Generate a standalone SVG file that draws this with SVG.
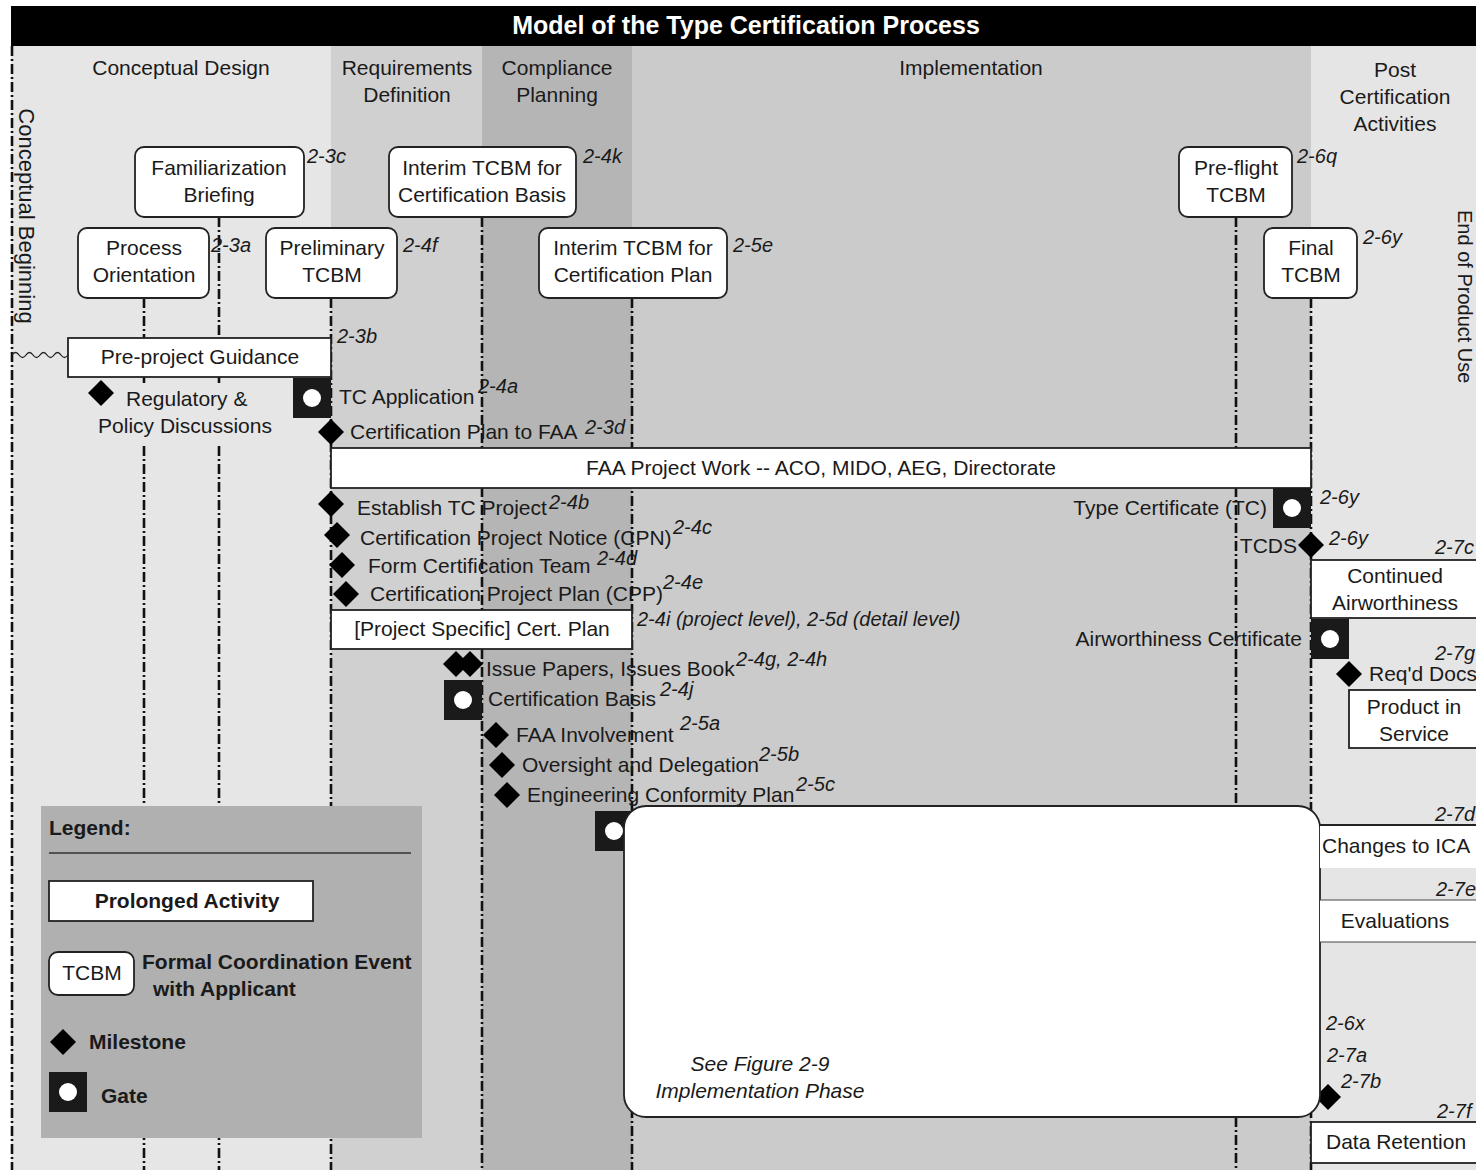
<svg xmlns="http://www.w3.org/2000/svg" width="1476" height="1170" viewBox="0 0 1476 1170">
<style>
text{font-family:"Liberation Sans",Arial,sans-serif;fill:#1a1a1a}
.t{font-size:21px}
.c{text-anchor:middle}
.e{text-anchor:end}
.r{font-size:20px;font-style:italic}
.b{font-weight:bold}
.box{fill:#fff;stroke:#222;stroke-width:1.8}
.dd{stroke:#111;stroke-width:2.6;fill:none;stroke-dasharray:10 3 2 3}
</style>
<defs>
<polygon id="dia" points="0,-13 13,0 0,13 -13,0" fill="#000"/>
<g id="gate"><rect x="-19" y="-20" width="38" height="40" fill="#1a1a1a"/><circle cx="0" cy="0" r="9" fill="#fff"/></g>
</defs>
<!-- backgrounds -->
<rect x="0" y="0" width="1476" height="1170" fill="#fff"/>
<rect x="11" y="46" width="320" height="1124" fill="#e6e6e6"/>
<rect x="331" y="46" width="151" height="1124" fill="#d0d0d0"/>
<rect x="482" y="46" width="150" height="1124" fill="#b5b5b5"/>
<rect x="632" y="46" width="679" height="1124" fill="#cbcbcb"/>
<rect x="1311" y="46" width="165" height="1124" fill="#e5e5e5"/>
<rect x="11" y="6" width="1465" height="40" fill="#000"/>
<text x="746" y="34" class="c b" style="font-size:25px;fill:#fff">Model of the Type Certification Process</text>
<!-- phase labels -->
<g id="phases">
<text x="181" y="75" class="t c">Conceptual Design</text>
<text x="407" y="75" class="t c">Requirements</text><text x="407" y="102" class="t c">Definition</text>
<text x="557" y="75" class="t c">Compliance</text><text x="557" y="102" class="t c">Planning</text>
<text x="971" y="75" class="t c">Implementation</text>
<text x="1395" y="77" class="t c">Post</text><text x="1395" y="104" class="t c">Certification</text><text x="1395" y="131" class="t c">Activities</text>
<text class="t c" transform="translate(19,216) rotate(90)" style="font-size:22px">Conceptual Beginning</text>
<text class="t" transform="translate(1458,210) rotate(90)" style="font-size:20px">End of Product Use</text>
</g>
<!-- connectors -->
<g id="connectors">
<line class="dd" x1="12" y1="46" x2="12" y2="1170"/>
<line class="dd" x1="144" y1="298" x2="144" y2="338"/>
<line class="dd" x1="144" y1="377" x2="144" y2="383"/>
<line class="dd" x1="144" y1="446" x2="144" y2="1170"/>
<line class="dd" x1="219" y1="217" x2="219" y2="338"/>
<line class="dd" x1="219" y1="377" x2="219" y2="383"/>
<line class="dd" x1="219" y1="446" x2="219" y2="1170"/>
<line class="dd" x1="331" y1="298" x2="331" y2="1170"/>
<line class="dd" x1="482" y1="217" x2="482" y2="1170"/>
<line class="dd" x1="632" y1="298" x2="632" y2="1170"/>
<line class="dd" x1="1236" y1="217" x2="1236" y2="1170"/>
<line class="dd" x1="1311" y1="298" x2="1311" y2="1170"/>
<path d="M12,355 q3.5,-5 7,0 t7,0 t7,0 t7,0 t7,0 t7,0 t7,0 t7,0" fill="none" stroke="#222" stroke-width="1.3"/>
</g>
<!-- TCBM nodes -->
<g id="familiarization"><rect class="box" x="135" y="147" width="169" height="70" rx="9"/><text x="219" y="175" class="t c">Familiarization</text><text x="219" y="202" class="t c">Briefing</text><text x="307" y="163" class="r">2-3c</text></g>
<g id="process-orientation"><rect class="box" x="78" y="228" width="131" height="70" rx="9"/><text x="144" y="255" class="t c">Process</text><text x="144" y="282" class="t c">Orientation</text><text x="211" y="252" class="r">2-3a</text></g>
<g id="preliminary-tcbm"><rect class="box" x="266" y="228" width="131" height="70" rx="9"/><text x="332" y="255" class="t c">Preliminary</text><text x="332" y="282" class="t c">TCBM</text><text x="403" y="252" class="r">2-4f</text></g>
<g id="interim-basis"><rect class="box" x="389" y="147" width="187" height="70" rx="9"/><text x="482" y="175" class="t c">Interim TCBM for</text><text x="482" y="202" class="t c">Certification Basis</text><text x="583" y="163" class="r">2-4k</text></g>
<g id="interim-plan"><rect class="box" x="539" y="228" width="188" height="70" rx="9"/><text x="633" y="255" class="t c">Interim TCBM for</text><text x="633" y="282" class="t c">Certification Plan</text><text x="733" y="252" class="r">2-5e</text></g>
<g id="preflight-tcbm"><rect class="box" x="1179" y="147" width="113" height="70" rx="9"/><text x="1236" y="175" class="t c">Pre-flight</text><text x="1236" y="202" class="t c">TCBM</text><text x="1297" y="163" class="r">2-6q</text></g>
<g id="final-tcbm"><rect class="box" x="1264" y="228" width="93" height="70" rx="9"/><text x="1311" y="255" class="t c">Final</text><text x="1311" y="282" class="t c">TCBM</text><text x="1363" y="244" class="r">2-6y</text></g>
<!-- activities -->
<g id="pre-project-guidance"><rect class="box" x="68" y="338" width="263" height="39"/><text x="200" y="364" class="t c">Pre-project Guidance</text><text x="337" y="343" class="r">2-3b</text></g>
<g id="regulatory"><use href="#dia" x="101" y="393"/><text x="126" y="406" class="t">Regulatory &amp;</text><text x="185" y="433" class="t c">Policy Discussions</text></g>
<g id="tc-application"><use href="#gate" x="312" y="398"/><text x="339" y="404" class="t">TC Application</text><text x="478" y="393" class="r">2-4a</text></g>
<g id="cert-plan-faa"><use href="#dia" x="331" y="432"/><text x="350" y="439" class="t">Certification Plan to FAA</text><text x="585" y="434" class="r">2-3d</text></g>
<g id="faa-project-work"><rect class="box" x="331" y="448" width="980" height="40"/><text x="821" y="475" class="t c">FAA Project Work -- ACO, MIDO, AEG, Directorate</text></g>
<g id="establish-tc"><use href="#dia" x="331" y="504"/><text x="357" y="515" class="t">Establish TC Project</text><text x="549" y="509" class="r">2-4b</text></g>
<g id="cpn"><use href="#dia" x="337" y="535"/><text x="360" y="545" class="t">Certification Project Notice (CPN)</text><text x="673" y="534" class="r">2-4c</text></g>
<g id="form-team"><use href="#dia" x="342" y="565"/><text x="368" y="573" class="t">Form Certification Team</text><text x="597" y="565" class="r">2-4d</text></g>
<g id="cpp"><use href="#dia" x="346" y="594"/><text x="370" y="601" class="t">Certification Project Plan (CPP)</text><text x="663" y="589" class="r">2-4e</text></g>
<g id="cert-plan"><rect class="box" x="331" y="610" width="301" height="39"/><text x="482" y="636" class="t c">[Project Specific] Cert. Plan</text><text x="637" y="626" class="r">2-4i (project level), 2-5d (detail level)</text></g>
<g id="issue-papers"><use href="#dia" x="456" y="664"/><use href="#dia" x="470" y="664"/><text x="486" y="676" class="t">Issue Papers, Issues Book</text><text x="736" y="666" class="r">2-4g, 2-4h</text></g>
<g id="cert-basis"><use href="#gate" x="463" y="700"/><text x="488" y="706" class="t">Certification Basis</text><text x="660" y="696" class="r">2-4j</text></g>
<g id="faa-involvement"><use href="#dia" x="496" y="735"/><text x="516" y="742" class="t">FAA Involvement</text><text x="680" y="730" class="r">2-5a</text></g>
<g id="oversight"><use href="#dia" x="502" y="765"/><text x="522" y="772" class="t">Oversight and Delegation</text><text x="759" y="761" class="r">2-5b</text></g>
<g id="conformity"><use href="#dia" x="507" y="795"/><text x="527" y="802" class="t">Engineering Conformity Plan</text><text x="796" y="791" class="r">2-5c</text></g>
<g id="impl-gate"><use href="#gate" x="614" y="831"/></g>
<g id="hidden-diamond"><use href="#dia" x="1328" y="1097"/></g>
<g id="implementation-phase"><rect class="box" x="624" y="806" width="696" height="311" rx="22"/><text x="760" y="1071" class="t c" style="font-style:italic">See Figure 2-9</text><text x="760" y="1098" class="t c" style="font-style:italic">Implementation Phase</text></g>
<!-- right side -->
<g id="type-certificate"><use href="#gate" x="1292" y="508"/><text x="1267" y="515" class="t e">Type Certificate (TC)</text><text x="1320" y="504" class="r">2-6y</text></g>
<g id="tcds"><use href="#dia" x="1311" y="545"/><text x="1297" y="553" class="t e">TCDS</text><text x="1329" y="545" class="r">2-6y</text></g>
<g id="continued-airworthiness"><rect class="box" x="1311" y="560" width="170" height="58"/><text x="1395" y="583" class="t c">Continued</text><text x="1395" y="610" class="t c">Airworthiness</text><text x="1435" y="554" class="r">2-7c</text></g>
<g id="airworthiness-cert"><use href="#gate" x="1330" y="639"/><text x="1302" y="646" class="t e">Airworthiness Certificate</text></g>
<g id="reqd-docs"><use href="#dia" x="1349" y="674"/><text x="1369" y="681" class="t">Req'd Docs</text><text x="1435" y="660" class="r">2-7g</text></g>
<g id="product-in-service"><rect class="box" x="1349" y="690" width="132" height="58"/><text x="1414" y="714" class="t c">Product in</text><text x="1414" y="741" class="t c">Service</text></g>
<g id="changes-ica"><rect x="1320" y="825" width="161" height="43" fill="#fff"/><line x1="1320" y1="825" x2="1476" y2="825" stroke="#222" stroke-width="1.8"/><text x="1322" y="853" class="t">Changes to ICA</text><text x="1435" y="821" class="r">2-7d</text></g>
<g id="evaluations"><rect x="1320" y="900" width="161" height="42" fill="#fff"/><line x1="1320" y1="900" x2="1476" y2="900" stroke="#444" stroke-width="1"/><line x1="1320" y1="942" x2="1476" y2="942" stroke="#444" stroke-width="1"/><text x="1395" y="928" class="t c">Evaluations</text><text x="1436" y="896" class="r">2-7e</text></g>
<g id="refs-bottom"><text x="1326" y="1030" class="r">2-6x</text><text x="1327" y="1062" class="r">2-7a</text><text x="1341" y="1088" class="r">2-7b</text></g>
<g id="data-retention"><rect class="box" x="1311" y="1122" width="170" height="41"/><text x="1326" y="1149" class="t">Data Retention</text><text x="1437" y="1118" class="r">2-7f</text></g>
<!-- legend -->
<g id="legend">
<rect x="41" y="806" width="381" height="332" fill="#b0b0b0"/>
<text x="49" y="835" class="t b">Legend:</text>
<line x1="49" y1="853" x2="411" y2="853" stroke="#333" stroke-width="1.3"/>
<rect class="box" x="49" y="881" width="264" height="40"/><text x="187" y="908" class="t c b">Prolonged Activity</text>
<rect class="box" x="49" y="952" width="85" height="43" rx="9"/><text x="92" y="980" class="t c">TCBM</text>
<text x="142" y="969" class="t b">Formal Coordination Event</text><text x="153" y="996" class="t b">with Applicant</text>
<use href="#dia" x="63" y="1042"/><text x="89" y="1049" class="t b">Milestone</text>
<use href="#gate" x="68" y="1092"/><text x="101" y="1103" class="t b">Gate</text>
</g>
</svg>
